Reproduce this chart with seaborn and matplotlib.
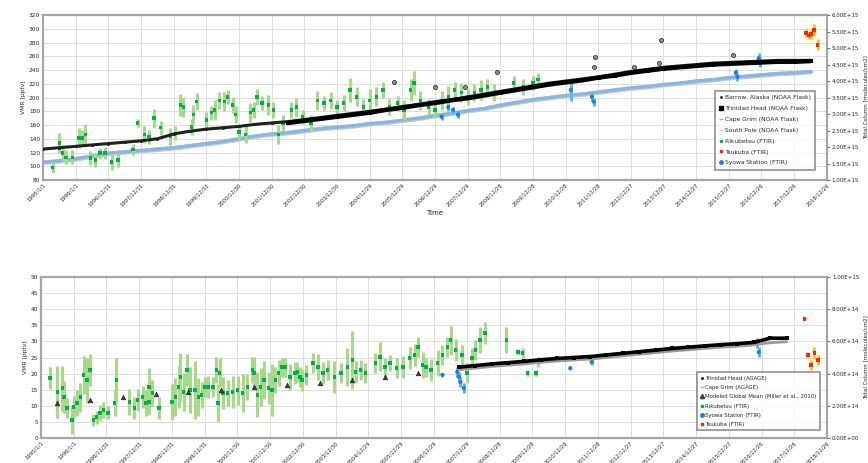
import numpy as np
import pandas as pd
import matplotlib
matplotlib.use("Agg")
import matplotlib.pyplot as plt
from matplotlib.lines import Line2D
import seaborn as sns

# --- eixo x (anos decimais) e rótulos de data ---
x_labels = ['1995/1/1', '1996/1/1', '1996/12/31', '1997/12/31', '1998/12/31', '1999/12/31',
            '2000/12/30', '2001/12/30', '2002/12/30', '2003/12/30', '2004/12/29', '2005/12/29',
            '2006/12/29', '2007/12/29', '2008/12/28', '2009/12/28', '2010/12/28', '2011/12/28',
            '2012/12/27', '2013/12/27', '2014/12/27', '2015/12/27', '2016/12/26', '2017/12/26',
            '2018/12/26']

# --- painel superior (VMR 80-320 pptv) ---
noaa_t = [1995.0 + 0.5 * i for i in range(48)]
barrow_v = [125, 127, 129, 131, 133, 135, 137, 140, 147, 151, 154, 156, 158, 161, 163, 165,
            168, 171, 174, 177, 180, 183, 187, 190, 194, 197, 201, 205, 209, 213, 217, 221,
            224, 227, 230, 234, 238, 241, 244, 246, 248, 250, 251, 252, 253, 254, 254, 254]
trinidad_t = [2002.5 + 0.5 * i for i in range(33)]
trinidad_v = [163, 166, 169, 172, 175, 178, 182, 185, 189, 192, 196, 199, 203, 207, 211, 215,
              219, 222, 225, 229, 232, 236, 239, 242, 244, 246, 248, 249, 250, 251, 252, 252, 253]
capegrim_v = [106, 108, 111, 115, 119, 121, 123, 125, 127, 130, 133, 136, 140, 144, 147, 149,
              152, 155, 157, 159, 162, 164, 167, 170, 174, 177, 181, 184, 189, 193, 197, 200,
              203, 205, 208, 211, 214, 216, 219, 221, 224, 226, 229, 231, 233, 235, 236, 238]
southpole_v = [105, 107, 110, 114, 118, 120, 122, 124, 126, 129, 132, 135, 139, 143, 146, 148,
               151, 154, 156, 158, 161, 163, 166, 169, 173, 176, 180, 183, 188, 192, 196, 199,
               202, 204, 207, 210, 213, 215, 218, 220, 223, 225, 228, 230, 232, 234, 235, 237]
outlier_t = [2005.75, 2007.0, 2007.9, 2008.9, 2011.9, 2011.85, 2013.1, 2013.9, 2013.85, 2016.1]
outlier_v = [222, 215, 215, 237, 259, 244, 245, 284, 250, 262]

rik_t = [1995.3, 1995.5, 1995.6, 1995.7, 1995.9, 1996.1, 1996.2, 1996.3, 1996.45, 1996.6,
         1996.75, 1996.9, 1997.1, 1997.3, 1997.75, 1997.9, 1998.1, 1998.25, 1998.4, 1998.6,
         1998.9, 1999.05, 1999.2, 1999.3, 1999.55, 1999.6, 1999.7, 2000.0, 2000.15, 2000.25,
         2000.4, 2000.55, 2000.65, 2000.8, 2000.9, 2001.0, 2001.2, 2001.35, 2001.45, 2001.55,
         2001.7, 2001.9, 2002.05, 2002.2, 2002.35, 2002.6, 2002.75,
         2002.95, 2003.2, 2003.4, 2003.6, 2003.8, 2004.0, 2004.2, 2004.4, 2004.6, 2004.8,
         2005.0, 2005.2, 2005.4, 2005.6, 2005.85, 2006.05, 2006.25, 2006.35, 2006.55, 2006.8,
         2007.0, 2007.2, 2007.4, 2007.6, 2007.8, 2008.0, 2008.2, 2008.4, 2008.6, 2008.8,
         2009.4, 2009.7, 2010.0, 2010.15]
rik_v = [98, 134, 119, 113, 113, 141, 141, 146, 112, 109, 119, 119, 106, 109, 124, 163,
         146, 143, 170, 156, 143, 148, 189, 186, 157, 175, 194, 167, 178, 182, 196, 194,
         201, 189, 175, 150, 146, 178, 182, 201, 192, 189, 182, 146, 163, 182, 186,
         172, 163, 196, 192, 196, 186, 192, 211, 201, 186, 196, 201, 211, 186, 192,
         182, 211, 221, 196, 186, 182, 196, 201, 211, 207, 201, 207, 211, 215, 207,
         221, 215, 221, 226]
rik_err = [8, 15, 12, 10, 10, 14, 12, 16, 10, 10, 8, 9, 12, 10, 8, 6,
           12, 10, 14, 10, 12, 10, 16, 14, 12, 14, 12, 12, 10, 14, 12, 14,
           10, 12, 12, 10, 12, 14, 12, 12, 10, 14, 12, 14, 12, 12, 14,
           10, 12, 14, 10, 12, 10, 12, 18, 14, 12, 16, 14, 12, 12, 10,
           14, 16, 18, 14, 12, 12, 14, 16, 12, 14, 12, 12, 14, 12, 12,
           10, 12, 10, 10]

syowa_t = [2007.2, 2007.4, 2007.55, 2007.7, 2011.15, 2011.8, 2011.85, 2016.2, 2016.25, 2016.9, 2016.95]
syowa_v = [172, 186, 182, 175, 211, 201, 194, 236, 230, 257, 250]
syowa_err = [4, 5, 4, 5, 16, 6, 6, 6, 6, 8, 6]

# Tsukuba em coluna total (eixo direito)
tsu_t = [2018.35, 2018.45, 2018.5, 2018.6, 2018.7]
tsu_col = [5.45e15, 5.38e15, 5.42e15, 5.55e15, 5.10e15]
tsu_err = [1.2e14, 1.0e14, 1.5e14, 1.8e14, 1.6e14]

# --- painel inferior (VMR 0-50 pptv) ---
agage_t = [2007.75 + 0.5 * i for i in range(21)]
agage_th_v = [22.0, 22.5, 23.0, 23.4, 23.8, 24.3, 24.7, 25.0, 25.3, 25.8, 26.3, 26.8, 27.3,
              27.8, 28.2, 28.6, 29.0, 29.3, 29.7, 31.0, 31.0]
agage_cg_v = [21.2, 21.7, 22.2, 22.6, 23.0, 23.5, 23.9, 24.2, 24.5, 25.0, 25.5, 26.0, 26.5,
              27.0, 27.4, 27.8, 28.2, 28.5, 28.9, 29.6, 29.9]
miller_t = [1995.5, 1996.5, 1997.5, 1998.5, 1999.5, 2000.5, 2001.5, 2002.5, 2003.5, 2004.5, 2005.5, 2006.5]
miller_v = [10.9, 11.8, 12.7, 13.7, 14.3, 14.9, 15.8, 16.5, 17.1, 18.0, 18.9, 20.2]

rik2_t = [1995.27, 1995.5, 1995.65, 1995.7, 1995.8, 1995.95, 1996.0, 1996.1, 1996.2, 1996.3,
          1996.4, 1996.5, 1996.6, 1996.7, 1996.8, 1996.9, 1997.05, 1997.25, 1997.3, 1997.7,
          1997.85, 1997.95, 1998.1, 1998.2, 1998.3, 1998.3, 1998.4, 1998.6, 1999.0, 1999.1,
          1999.2, 1999.25, 1999.35, 1999.45, 1999.55, 1999.7, 1999.8, 1999.9, 2000.0, 2000.1,
          2000.25, 2000.35, 2000.4, 2000.45, 2000.55, 2000.7, 2000.85, 2001.0, 2001.15, 2001.3,
          2001.45, 2001.5, 2001.6, 2001.7, 2001.8, 2001.95, 2002.05, 2002.15, 2002.25, 2002.35,
          2002.45, 2002.6, 2002.75,
          2002.82, 2002.9, 2002.97, 2003.1, 2003.3, 2003.45, 2003.6, 2003.75, 2003.95, 2004.15,
          2004.35, 2004.5, 2004.6, 2004.75, 2004.9, 2005.2, 2005.35, 2005.5, 2005.65, 2005.85,
          2006.05, 2006.25, 2006.4, 2006.5, 2006.65, 2006.75, 2006.9, 2007.1, 2007.25, 2007.4,
          2007.5, 2007.65, 2007.85, 2008.0, 2008.15, 2008.25, 2008.4, 2008.55, 2009.2, 2009.55,
          2009.7, 2009.85, 2010.1, 2010.15]
rik2_v = [18.6, 14.3, 15.5, 12.7, 9.3, 5.6, 9.6, 10.9, 12.7, 19.6, 18.0, 21.1, 5.6, 6.5,
          7.8, 8.7, 7.8, 10.9, 18.0, 11.2, 9.3, 11.8, 12.7, 10.9, 11.2, 15.8, 14.0, 9.3,
          11.2, 12.7, 15.8, 18.9, 14.3, 21.1, 14.9, 14.9, 12.7, 13.4, 15.8, 15.8, 15.8, 21.1,
          10.9, 20.2, 14.0, 14.0, 14.3, 14.9, 14.0, 15.8, 21.1, 20.2, 13.4, 15.8, 18.0, 15.5,
          14.9, 18.0, 20.2, 22.0, 22.0, 18.9, 20.2,
          20.5, 18.9, 18.0, 19.6, 23.3, 22.0, 20.2, 21.1, 18.9, 20.2, 22.0, 24.2, 20.5, 21.1,
          20.2, 23.3, 25.2, 22.0, 23.3, 21.7, 22.0, 24.8, 25.8, 28.3, 22.7, 22.0, 21.1, 23.3,
          25.8, 28.3, 30.4, 27.3, 25.8, 20.2, 24.8, 27.3, 30.4, 32.6, 30.4, 26.7, 26.4, 20.2,
          20.2, 23.6]
rik2_err = [3.5, 8.0, 7.0, 5.0, 3.0, 4.5, 3.5, 4.0, 4.5, 6.0, 7.0, 5.0, 2.0, 2.0,
            2.5, 2.5, 2.0, 4.0, 7.0, 4.0, 3.5, 3.5, 3.5, 4.0, 4.0, 6.0, 4.0, 3.5,
            5.5, 6.0, 6.5, 7.5, 6.0, 5.0, 7.0, 9.0, 6.0, 4.0, 3.0, 3.5, 3.0, 4.0,
            6.0, 4.5, 5.0, 4.0, 5.0, 4.5, 6.0, 4.0, 4.0, 5.0, 7.0, 6.0, 6.0, 5.0,
            8.0, 4.0, 4.0, 3.0, 3.0, 4.0, 3.5,
            3.0, 3.0, 3.5, 3.0, 3.0, 4.0, 3.5, 3.0, 5.0, 3.0, 6.0, 9.0, 3.5, 3.0,
            3.0, 3.0, 4.5, 3.0, 2.5, 3.0, 3.5, 3.5, 3.5, 3.0, 4.0, 3.0, 3.5, 4.0,
            3.0, 3.0, 4.5, 3.5, 3.0, 3.0, 3.0, 3.0, 4.0, 3.5, 4.0, 1.0, 1.5, 1.0,
            1.0, 1.5]

syowa2_t = [2007.25, 2007.7, 2007.75, 2007.8, 2007.9, 2011.15, 2011.8, 2016.85, 2016.9]
syowa2_v = [19.6, 20.5, 19.0, 17.4, 15.5, 21.7, 23.6, 29.5, 26.7]
syowa2_err = [0.5, 1.5, 1.5, 1.5, 1.5, 0.5, 1.0, 1.5, 1.5]

tsu2_t = [2018.3, 2018.4, 2018.5, 2018.6, 2018.7]
tsu2_col = [7.4e14, 5.16e14, 4.53e14, 5.28e14, 4.84e14]
tsu2_err = [0.1e14, 0.2e14, 0.3e14, 0.4e14, 0.3e14]

# --- estilo ---
sns.set_theme(style="whitegrid")
plt.rcParams['font.family'] = ['DejaVu Sans']

GREEN_BAR = '#a8d88a'
GREEN_PT = '#00b050'
BLUE_PT = '#1f7fd8'
BLUE_BAR = '#4fb3f0'
GRID = '#d9d9d9'
FRAME = '#a6a6a6'

x_ticks = [1995.0 + k * 365 / 365.25 for k in range(len(x_labels))]
x_lo, x_hi = x_ticks[0], x_ticks[-1]

fig = plt.figure(figsize=(8.68, 4.63), dpi=100)
ax1 = fig.add_axes([0.0495, 0.6112, 0.903, 0.3564])
ax2 = fig.add_axes([0.0472, 0.054, 0.9056, 0.3477])


def style_axes(ax, ylim, ystep):
    ax.set_xlim(x_lo, x_hi)
    ax.set_ylim(*ylim)
    ax.set_yticks(np.arange(ylim[0], ylim[1] + 0.1, ystep))
    ax.set_xticks(x_ticks)
    ax.set_xticklabels(x_labels, rotation=45, ha='right', rotation_mode='anchor', fontsize=3.8)
    ax.tick_params(axis='y', labelsize=4.2, pad=2, length=0)
    ax.tick_params(axis='x', pad=1.5, length=0)
    ax.grid(True, color=GRID, lw=0.6)
    ax.set_facecolor('white')
    for s in ax.spines.values():
        s.set_color(FRAME)
        s.set_linewidth(1.6)


def style_right(axr, ylim, ystep):
    axr.set_ylim(*ylim)
    ticks = np.arange(ylim[0], ylim[1] + ystep * 0.01, ystep)
    axr.set_yticks(ticks)
    axr.set_yticklabels(['{:.2E}'.format(t) for t in ticks], fontsize=4.0)
    axr.tick_params(axis='y', length=2, width=0.5, color='#404040', pad=1.5)
    axr.grid(False)
    for s in axr.spines.values():
        s.set_visible(False)
    axr.set_ylabel('Total Column [molecules/cm2]', fontsize=4.0, labelpad=3)


def err_series(ax, t, v, e, bar_c, pt_c, marker='s', ms=6, lw=2.2):
    ax.errorbar(t, v, yerr=e, fmt='none', ecolor=bar_c, elinewidth=lw, capsize=0, zorder=3)
    sns.scatterplot(x=t, y=v, ax=ax, color=pt_c, marker=marker, s=ms, edgecolor='none',
                    zorder=4, legend=False)


# ---------- painel superior ----------
style_axes(ax1, (80, 320), 20)
ax1.set_ylabel('VMR [pptv]', fontsize=4.3, labelpad=2)
ax1.set_xlabel('Time', fontsize=5, labelpad=2)

sns.lineplot(x=noaa_t, y=southpole_v, ax=ax1, color='#b4cce6', lw=3.2, zorder=2)
sns.lineplot(x=noaa_t, y=capegrim_v, ax=ax1, color='#8fb4de', lw=2.4, zorder=2)
err_series(ax1, rik_t, rik_v, rik_err, GREEN_BAR, GREEN_PT)
sns.lineplot(x=noaa_t, y=barrow_v, ax=ax1, color='#202020', lw=2.2, marker='o',
             markersize=2.2, markeredgewidth=0, zorder=5)
sns.lineplot(x=trinidad_t, y=trinidad_v, ax=ax1, color='black', lw=3.2, marker='s',
             markersize=2.8, markeredgewidth=0, zorder=5)
sns.scatterplot(x=outlier_t, y=outlier_v, ax=ax1, color='#8c8c8c', edgecolor='black',
                linewidth=0.4, s=9, zorder=6, legend=False)
err_series(ax1, syowa_t, syowa_v, syowa_err, BLUE_BAR, BLUE_PT, marker='o', ms=9, lw=2.0)

ax1r = ax1.twinx()
ax1r.set_xlim(x_lo, x_hi)
style_right(ax1r, (1.0e15, 6.0e15), 5.0e14)
ax1r.errorbar(tsu_t, tsu_col, yerr=tsu_err, fmt='none', ecolor='#ffc000', elinewidth=2.0, zorder=3)
sns.scatterplot(x=tsu_t, y=tsu_col, ax=ax1r, color='#ff2020', marker='s', s=7,
                edgecolor='none', zorder=4, legend=False)

h1 = [Line2D([], [], ls='none', marker='.', ms=2, color='#202020'),
      Line2D([], [], ls='none', marker='s', ms=2.5, color='black'),
      Line2D([], [], ls='none', marker='_', ms=3, color='#8fb4de'),
      Line2D([], [], ls='none', marker='_', ms=3, color='#c0d0e0'),
      Line2D([], [], ls='none', marker='s', ms=1.5, color=GREEN_PT),
      Line2D([], [], ls='none', marker='s', ms=1.5, color='#ff2020'),
      Line2D([], [], ls='none', marker='o', ms=2.5, color=BLUE_PT)]
l1 = ['Barrow, Alaska (NOAA Flask)', 'Trinidad Head (NOAA Flask)', 'Cape Grim (NOAA Flask)',
      'South Pole (NOAA Flask)', 'Rikubetsu (FTIR)', 'Tsukuba (FTIR)', 'Syowa Station (FTIR)']
leg1 = ax1r.legend(h1, l1, loc='lower right', bbox_to_anchor=(0.989, 0.045), fontsize=4.3,
                   frameon=True, fancybox=False, handlelength=0.6, handletextpad=0.3,
                   labelspacing=0.95, borderpad=0.7)
leg1.get_frame().set_edgecolor('#7f7f7f')
leg1.get_frame().set_linewidth(1.3)

# ---------- painel inferior ----------
style_axes(ax2, (0, 50), 5)
ax2.set_ylabel('VMR [pptv]', fontsize=4.3, labelpad=2)

err_series(ax2, rik2_t, rik2_v, rik2_err, GREEN_BAR, GREEN_PT)
sns.lineplot(x=agage_t, y=agage_cg_v, ax=ax2, color='#9a9a9a', lw=2.0, zorder=5)
sns.lineplot(x=agage_t, y=agage_th_v, ax=ax2, color='black', lw=2.6, marker='s',
             markersize=2.4, markeredgewidth=0, zorder=5)
sns.scatterplot(x=miller_t, y=miller_v, ax=ax2, color='#404040', marker='^', s=12,
                edgecolor='black', linewidth=0.3, zorder=6, legend=False)
err_series(ax2, syowa2_t, syowa2_v, syowa2_err, BLUE_BAR, BLUE_PT, marker='o', ms=9, lw=2.0)

ax2r = ax2.twinx()
ax2r.set_xlim(x_lo, x_hi)
style_right(ax2r, (0.0, 1.0e15), 2.0e14)
ax2r.errorbar(tsu2_t, tsu2_col, yerr=tsu2_err, fmt='none', ecolor='#ffc000', elinewidth=2.0, zorder=3)
sns.scatterplot(x=tsu2_t, y=tsu2_col, ax=ax2r, color='#ff2020', marker='s', s=7,
                edgecolor='none', zorder=4, legend=False)

h2 = [Line2D([], [], ls='none', marker='.', ms=2, color='black'),
      Line2D([], [], ls='none', marker='_', ms=3, color='#b0b0b0'),
      Line2D([], [], ls='none', marker='^', ms=3, color='#404040'),
      Line2D([], [], ls='none', marker='s', ms=1.5, color=GREEN_PT),
      Line2D([], [], ls='none', marker='o', ms=2.5, color=BLUE_PT),
      Line2D([], [], ls='none', marker='s', ms=1.5, color='#ff2020')]
l2 = ['Trinidad Head (AGAGE)', 'Cape Grim (AGAGE)', 'Modeled Global Mean (Miller et al., 2010)',
      'Rikubetsu (FTIR)', 'Syowa Station (FTIR)', 'Tsukuba (FTIR)']
leg2 = ax2r.legend(h2, l2, loc='lower right', bbox_to_anchor=(0.994, 0.03), fontsize=3.9,
                   frameon=True, fancybox=False, handlelength=0.6, handletextpad=0.3,
                   labelspacing=0.8, borderpad=0.6)
leg2.get_frame().set_edgecolor('#7f7f7f')
leg2.get_frame().set_linewidth(1.3)

fig.savefig('out.png', dpi=100, facecolor='white')
